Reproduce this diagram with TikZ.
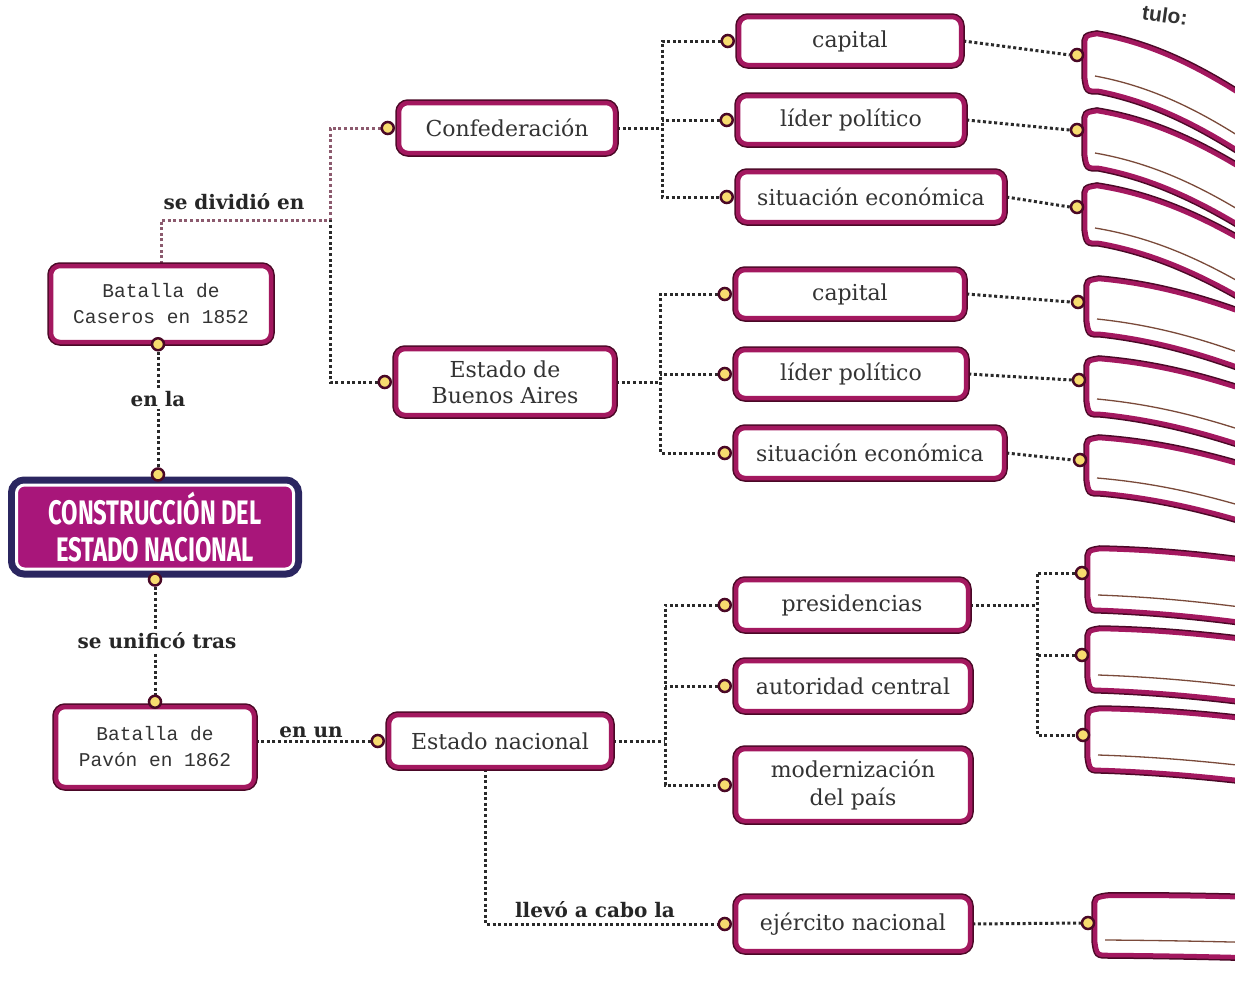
\documentclass[tikz,border=0pt]{standalone}
\usepackage{fontspec}
\setmainfont{DejaVu Serif}
\newfontfamily\monof{Liberation Mono}
\newfontfamily\titlef[FakeStretch=0.70]{Fira Sans}
\newfontfamily\sansf{Liberation Sans}
\usetikzlibrary{calc}
\definecolor{magA}{HTML}{A3185F}
\definecolor{magD}{HTML}{4A0826}
\definecolor{magC}{HTML}{A8167A}
\definecolor{navyC}{HTML}{2B2660}
\definecolor{dotY}{HTML}{F7DC6F}
\definecolor{linkC}{HTML}{2A2A2A}
\definecolor{linkM}{HTML}{8C5A6E}
\definecolor{txtC}{HTML}{333333}
\definecolor{lineB}{HTML}{7A4A3A}
\pgfdeclarelayer{bg}
\pgfsetlayers{bg,main}
\tikzset{
  mbox/.style={fill=white, draw=magA, line width=4.5pt, rounded corners=9pt,
    preaction={draw=magD, line width=7.5pt}, text=txtC, align=center,
    font=\fontsize{22}{26}\selectfont, inner sep=0pt},
  tagb/.style={fill=white, draw=magA, line width=4.5pt,
    preaction={draw=magD, line width=7.5pt}},
  tagl/.style={draw=lineB, line width=1.3pt},
  knob/.style={circle, fill=dotY, draw=magD, line width=2.5pt, minimum size=12pt, inner sep=0pt},
  link/.style={draw=linkC, line width=3pt, dash pattern=on 3pt off 2.6pt},
  linkm/.style={draw=linkM, line width=3pt, dash pattern=on 3pt off 2.6pt},
  lab/.style={font=\bfseries\fontsize{20}{24}\selectfont, text=black!85, inner sep=2pt},
  central/.style={fill=magC, draw=white, line width=3pt, rounded corners=8pt,
    minimum width=277pt, minimum height=84pt, preaction={draw=navyC, line width=17pt},
    text=white, align=center, font=\titlef\bfseries\fontsize{34}{37}\selectfont, inner sep=0pt}
}
\newcommand\magtag[4]{%
  \begin{scope}[shift={(#1,#2)}]
    \draw[tagb] (0,14) .. controls (0,3) .. (12,1)
      .. controls (70,{0.15*#3}) and (120,{0.5*#3}) .. (175,#3)
      -- (175,{#3+#4})
      .. controls (120,{0.5*#3+#4}) and (70,{0.15*#3+#4}) .. (14,#4)
      .. controls (2,#4) .. (0,{#4-14}) -- cycle;
    \draw[tagl] (10,{#4-15}) .. controls (70,{0.15*#3+#4-15}) and (120,{0.5*#3+#4-15}) .. (175,{#3+#4-15});
  \end{scope}}
\begin{document}
\begin{tikzpicture}[x=1pt,y=-1pt]
\useasboundingbox (0,0) rectangle (1235,985);
\begin{pgfonlayer}{bg}
  \fill[white] (0,0) rectangle (1235,985);
\end{pgfonlayer}

% ---- left column ----
\node[mbox, font=\monof\fontsize{19.5}{26}\selectfont, minimum width=220pt, minimum height=76pt] (caseros) at (161,304) {Batalla de\\Caseros en 1852};
\node[knob] (dcasb) at ([xshift=-3pt]caseros.south) {};

\node[central] (cen) at (155,527) {CONSTRUCCIÓN DEL\\ESTADO NACIONAL};
\node[knob] (dcent) at ([yshift=9pt,xshift=3pt]cen.north) {};
\node[knob] (dcenb) at ([yshift=-9pt]cen.south) {};

\node[mbox, font=\monof\fontsize{19.5}{26}\selectfont, minimum width=198pt, minimum height=80pt] (pavon) at (155,747) {Batalla de\\Pavón en 1862};
\node[knob] (dpav) at ([yshift=3pt]pavon.north) {};

% ---- middle column ----
\node[mbox, minimum width=216pt, minimum height=50pt] (conf) at (507,128) {Confederación};
\node[knob] (dconf) at ([xshift=-9pt]conf.west) {};
\node[mbox, minimum width=218pt, minimum height=66pt] (bsas) at (505,382) {Estado de\\Buenos Aires};
\node[knob] (dbsas) at ([xshift=-9pt]bsas.west) {};
\node[mbox, minimum width=222pt, minimum height=52pt] (estnac) at (500,741) {Estado nacional};
\node[knob] (destnac) at ([xshift=-9pt]estnac.west) {};

% ---- right column ----
\node[mbox, minimum width=222pt, minimum height=48pt] (cap1) at (850,41) {capital};
\node[mbox, minimum width=226pt, minimum height=48pt] (lid1) at (851,120) {líder político};
\node[mbox, minimum width=266pt, minimum height=50pt] (sit1) at (871,197) {situación económica};
\node[mbox, minimum width=228pt, minimum height=48pt] (cap2) at (850,294) {capital};
\node[mbox, minimum width=230pt, minimum height=48pt] (lid2) at (851,374) {líder político};
\node[mbox, minimum width=268pt, minimum height=50pt] (sit2) at (870,453) {situación económica};
\node[mbox, minimum width=232pt, minimum height=50pt] (pres) at (852,605) {presidencias};
\node[mbox, minimum width=234pt, minimum height=50pt] (aut) at (853,686) {autoridad central};
\node[mbox, minimum width=234pt, minimum height=72pt, font=\fontsize{22}{28}\selectfont] (mod) at (853,785) {modernización\\del país};
\node[mbox, minimum width=234pt, minimum height=54pt] (ejer) at (853,924) {ejército nacional};
\foreach \n in {cap1,lid1,sit1,cap2,lid2,sit2,pres,aut,mod,ejer}
  \node[knob] (d\n) at ([xshift=-9pt]\n.west) {};

% ---- answer tags on the right ----
\begin{scope}
  \clip (0,0) rectangle (1235,985);
  \magtag{1085}{33}{74}{58}
  \magtag{1085}{110}{70}{58}
  \magtag{1085}{185}{66}{58}
  \magtag{1087}{278}{42}{56}
  \magtag{1087}{358}{38}{56}
  \magtag{1087}{437}{34}{56}
  \magtag{1088}{548}{15}{62}
  \magtag{1088}{628}{14}{62}
  \magtag{1088}{708}{13}{62}
  \magtag{1095}{895}{3}{60}
\end{scope}
\node[knob] (dt1) at (1077,55) {};
\node[knob] (dt2) at (1077,130) {};
\node[knob] (dt3) at (1077,207) {};
\node[knob] (dt4) at (1078,302) {};
\node[knob] (dt5) at (1079,380) {};
\node[knob] (dt6) at (1080,460) {};
\node[knob] (dt7) at (1082,573) {};
\node[knob] (dt8) at (1082,655) {};
\node[knob] (dt9) at (1083,735) {};
\node[knob] (dt10) at (1088,923) {};

\node[font=\sansf\bfseries\fontsize{21}{24}\selectfont, text=black!80, rotate=-8, inner sep=0pt] (tulo) at (1165,15) {tulo:};

% ---- connectors ----
\coordinate (jdiv) at (330,220);
\coordinate (j1) at (662,124);
\coordinate (j2) at (660,378);
\coordinate (j3) at (665,741);
\coordinate (j5) at (1037,607);
\begin{pgfonlayer}{bg}
  \draw[linkm] (caseros.north) |- (jdiv);
  \draw[linkm] (dconf.west) -| (jdiv);
  \draw[link] (dbsas.west) -| (jdiv);
  \draw[link] (dcasb.south) -- (dcent.north);
  \draw[link] (dcenb.south) -- (dpav.north);
  \draw[link] (destnac.west) -- (destnac.west -| pavon.east);
  % group 1
  \draw[link] (conf.east) -- (conf.east -| j1);
  \draw[link] (dcap1.west) -| (j1) |- (dsit1.west);
  \draw[link] (dlid1.west) -- (dlid1.west -| j1);
  % group 2
  \draw[link] (bsas.east) -- (bsas.east -| j2);
  \draw[link] (dcap2.west) -| (j2) |- (dsit2.west);
  \draw[link] (dlid2.west) -- (dlid2.west -| j2);
  % group 3
  \draw[link] (estnac.east) -- (estnac.east -| j3);
  \draw[link] (dpres.west) -| (j3) |- (dmod.west);
  \draw[link] (daut.west) -- (daut.west -| j3);
  \draw[link] ([xshift=-15pt]estnac.south) |- (dejer.west);
  % to tags
  \draw[link] (cap1.east) -- (dt1.west);
  \draw[link] (lid1.east) -- (dt2.west);
  \draw[link] (sit1.east) -- (dt3.west);
  \draw[link] (cap2.east) -- (dt4.west);
  \draw[link] (lid2.east) -- (dt5.west);
  \draw[link] (sit2.east) -- (dt6.west);
  \draw[link] (pres.east) -- (pres.east -| j5);
  \draw[link] (dt7.west) -| (j5) |- (dt9.west);
  \draw[link] (dt8.west) -- (dt8.west -| j5);
  \draw[link] (ejer.east) -- (dt10.west);
\end{pgfonlayer}

% ---- link labels ----
\node[lab] (ldiv) at (234,202) {se dividió en};
\node[lab, fill=white] (lenla) at (158,399) {en la};
\node[lab, fill=white] (luni) at (157,641) {se unificó tras};
\node[lab] (lenun) at (311,732) {en un};
\node[lab] (lllevo) at (595,910) {llevó a cabo la};
\end{tikzpicture}
\end{document}
